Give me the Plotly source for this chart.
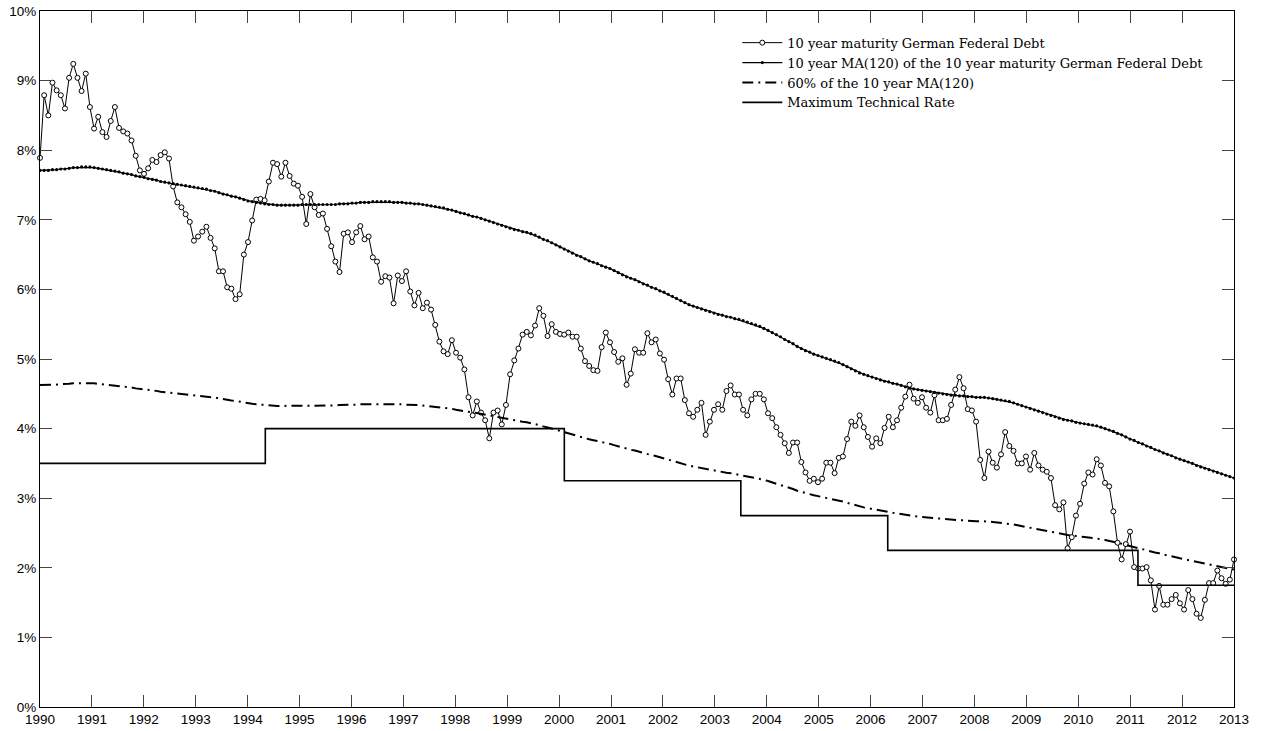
import plotly.graph_objects as go

# 10 year maturity German Federal Debt (monthly, %)
yield_10y = [
    7.89, 8.79, 8.50, 8.97, 8.86, 8.79, 8.60, 9.04, 9.24, 9.04, 8.85, 9.10,
    8.62, 8.31, 8.48, 8.26, 8.19, 8.42, 8.62, 8.32, 8.27, 8.24, 8.14, 7.92,
    7.71, 7.66, 7.74, 7.86, 7.83, 7.93, 7.97, 7.88, 7.48, 7.25, 7.18, 7.08,
    6.97, 6.70, 6.76, 6.83, 6.90, 6.74, 6.59, 6.26, 6.26, 6.03, 6.01, 5.86,
    5.93, 6.50, 6.68, 6.99, 7.29, 7.30, 7.28, 7.55, 7.82, 7.80, 7.62, 7.82,
    7.63, 7.52, 7.49, 7.33, 6.94, 7.37, 7.18, 7.07, 7.09, 6.87, 6.62, 6.40,
    6.25, 6.80, 6.82, 6.68, 6.82, 6.91, 6.72, 6.76, 6.46, 6.40, 6.11, 6.19,
    6.17, 5.80, 6.20, 6.12, 6.26, 5.97, 5.77, 5.95, 5.73, 5.81, 5.71, 5.49,
    5.25, 5.11, 5.07, 5.27, 5.09, 5.02, 4.85, 4.45, 4.19, 4.39, 4.23, 4.12,
    3.86, 4.23, 4.26, 4.06, 4.34, 4.78, 4.98, 5.15, 5.35, 5.39, 5.34, 5.48,
    5.73, 5.62, 5.33, 5.50, 5.39, 5.36, 5.35, 5.38, 5.32, 5.32, 5.15, 4.97,
    4.90, 4.84, 4.83, 5.17, 5.38, 5.24, 5.10, 4.96, 5.01, 4.63, 4.79, 5.14,
    5.09, 5.09, 5.37, 5.24, 5.28, 5.08, 4.99, 4.71, 4.49, 4.72, 4.72, 4.41,
    4.22, 4.17, 4.27, 4.37, 3.91, 4.10, 4.27, 4.35, 4.27, 4.54, 4.62, 4.49,
    4.49, 4.27, 4.19, 4.42, 4.50, 4.50, 4.42, 4.22, 4.15, 4.02, 3.91, 3.79,
    3.65, 3.80, 3.80, 3.52, 3.37, 3.25, 3.28, 3.23, 3.28, 3.51, 3.51, 3.36,
    3.58, 3.60, 3.85, 4.10, 4.04, 4.19, 4.02, 3.88, 3.74, 3.86, 3.79, 4.01,
    4.17, 4.02, 4.12, 4.30, 4.46, 4.63, 4.43, 4.37, 4.45, 4.30, 4.23, 4.48,
    4.12, 4.12, 4.14, 4.34, 4.56, 4.74, 4.58, 4.28, 4.26, 4.10, 3.55, 3.29,
    3.67, 3.51, 3.44, 3.63, 3.95, 3.75, 3.68, 3.50, 3.50, 3.60, 3.41, 3.65,
    3.47, 3.41, 3.38, 3.29, 2.90, 2.84, 2.94, 2.28, 2.44, 2.75, 2.92, 3.21,
    3.37, 3.34, 3.56, 3.47, 3.22, 3.17, 2.81, 2.36, 2.12, 2.34, 2.52, 2.01,
    1.99, 1.99, 2.01, 1.82, 1.40, 1.74, 1.47, 1.47, 1.55, 1.61, 1.49, 1.40,
    1.68, 1.55, 1.34, 1.28, 1.54, 1.78, 1.78, 1.96, 1.85, 1.77, 1.83, 2.12,
]

# 10 year MA(120) of the 10 year yield (monthly, %)
ma_120 = [
    7.71, 7.71, 7.71, 7.72, 7.72, 7.73, 7.73, 7.74, 7.75, 7.75, 7.76, 7.76,
    7.76, 7.75, 7.74, 7.73, 7.72, 7.71, 7.70, 7.69, 7.67, 7.66, 7.65, 7.63,
    7.62, 7.61, 7.59, 7.58, 7.57, 7.55, 7.54, 7.53, 7.52, 7.51, 7.50, 7.49,
    7.48, 7.47, 7.46, 7.45, 7.44, 7.42, 7.41, 7.39, 7.37, 7.36, 7.34, 7.33,
    7.31, 7.29, 7.27, 7.26, 7.25, 7.24, 7.23, 7.22, 7.22, 7.21, 7.21, 7.21,
    7.21, 7.21, 7.21, 7.22, 7.22, 7.22, 7.22, 7.22, 7.22, 7.22, 7.22, 7.22,
    7.23, 7.23, 7.23, 7.24, 7.24, 7.25, 7.25, 7.25, 7.26, 7.26, 7.26, 7.26,
    7.26, 7.25, 7.25, 7.25, 7.24, 7.24, 7.23, 7.23, 7.22, 7.21, 7.20, 7.19,
    7.18, 7.17, 7.15, 7.14, 7.12, 7.10, 7.09, 7.07, 7.05, 7.04, 7.02, 7.00,
    6.98, 6.96, 6.94, 6.92, 6.90, 6.88, 6.86, 6.85, 6.83, 6.82, 6.80, 6.78,
    6.75, 6.72, 6.70, 6.67, 6.64, 6.61, 6.58, 6.55, 6.52, 6.49, 6.47, 6.44,
    6.41, 6.39, 6.37, 6.34, 6.32, 6.30, 6.27, 6.24, 6.21, 6.18, 6.16, 6.14,
    6.11, 6.08, 6.06, 6.03, 6.01, 5.98, 5.96, 5.93, 5.90, 5.87, 5.84, 5.81,
    5.78, 5.76, 5.74, 5.72, 5.70, 5.68, 5.66, 5.64, 5.63, 5.61, 5.60, 5.58,
    5.57, 5.55, 5.53, 5.51, 5.49, 5.47, 5.44, 5.41, 5.38, 5.35, 5.32, 5.28,
    5.25, 5.22, 5.18, 5.15, 5.12, 5.10, 5.07, 5.05, 5.03, 5.01, 4.99, 4.97,
    4.95, 4.92, 4.89, 4.86, 4.83, 4.80, 4.78, 4.76, 4.74, 4.72, 4.70, 4.68,
    4.67, 4.65, 4.64, 4.62, 4.60, 4.58, 4.57, 4.56, 4.55, 4.54, 4.53, 4.52,
    4.51, 4.50, 4.49, 4.48, 4.48, 4.47, 4.47, 4.46, 4.46, 4.45, 4.45, 4.45,
    4.44, 4.43, 4.42, 4.41, 4.40, 4.39, 4.37, 4.35, 4.33, 4.31, 4.29, 4.27,
    4.25, 4.23, 4.21, 4.19, 4.17, 4.15, 4.13, 4.12, 4.11, 4.09, 4.08, 4.07,
    4.06, 4.05, 4.04, 4.02, 4.00, 3.98, 3.96, 3.93, 3.91, 3.88, 3.85, 3.83,
    3.80, 3.78, 3.75, 3.73, 3.70, 3.68, 3.65, 3.63, 3.61, 3.58, 3.56, 3.54,
    3.52, 3.50, 3.47, 3.45, 3.43, 3.41, 3.39, 3.37, 3.35, 3.33, 3.31, 3.29,
]

# 60% of the MA(120)
ma_60pct = [round(0.6 * v, 4) for v in ma_120]

# Maximum Technical Rate (step changes)
mtr_dates = [1990.0, 1994.34, 2000.10, 2003.50, 2006.33, 2011.15, 2013.0]
mtr_rates = [3.50, 4.00, 3.25, 2.75, 2.25, 1.75, 1.75]

year_ticks = list(range(1990, 2014))
pct_ticks = list(range(0, 11))

n = len(yield_10y)
x_dates = [1990 + i * 23 / (n - 1) for i in range(n)]

legend_font = dict(family="DejaVu Serif", size=13, color="black")

fig = go.Figure()
fig.add_trace(go.Scatter(
    x=x_dates, y=yield_10y, mode="lines+markers",
    name="10 year maturity German Federal Debt",
    line=dict(color="black", width=1),
    marker=dict(symbol="circle", size=5, color="white", line=dict(color="black", width=1)),
    cliponaxis=False,
))
fig.add_trace(go.Scatter(
    x=x_dates, y=ma_120, mode="lines+markers",
    name="10 year MA(120) of the 10 year maturity German Federal Debt",
    line=dict(color="black", width=1.2),
    marker=dict(symbol="circle", size=3.2, color="black"),
))
fig.add_trace(go.Scatter(
    x=x_dates, y=ma_60pct, mode="lines",
    name="60% of the 10 year MA(120)",
    line=dict(color="black", width=2, dash="11px,5px,2px,5px"),
))
fig.add_trace(go.Scatter(
    x=mtr_dates, y=mtr_rates, mode="lines",
    name="Maximum Technical Rate",
    line=dict(color="black", width=1.6, shape="hv"),
))

axis_common = dict(
    showline=True, linecolor="black", linewidth=1, mirror="allticks",
    ticks="inside", ticklen=12, tickwidth=1, tickcolor="#444",
    showgrid=False, zeroline=False, automargin=False,
    tickfont=dict(family="Liberation Sans, Arial", size=13.5, color="black"),
)

fig.update_xaxes(range=[1990, 2013], tickvals=year_ticks,
                 ticktext=[str(y) for y in year_ticks], **axis_common)
fig.update_yaxes(range=[0, 10], tickvals=pct_ticks,
                 ticktext=[f"{p}%" for p in pct_ticks], **axis_common)

fig.update_layout(
    width=1263, height=731,
    margin=dict(l=40, r=29, t=11, b=24),
    plot_bgcolor="white", paper_bgcolor="white",
    showlegend=True,
    legend=dict(x=0.584, y=0.976, xanchor="left", yanchor="top",
                bgcolor="rgba(0,0,0,0)", font=legend_font,
                tracegroupgap=0, itemwidth=40),
)

fig.write_html(
    "out.html",
    config={"displayModeBar": False},
    post_script="document.body.style.margin='0';document.body.style.overflow='hidden';",
)
